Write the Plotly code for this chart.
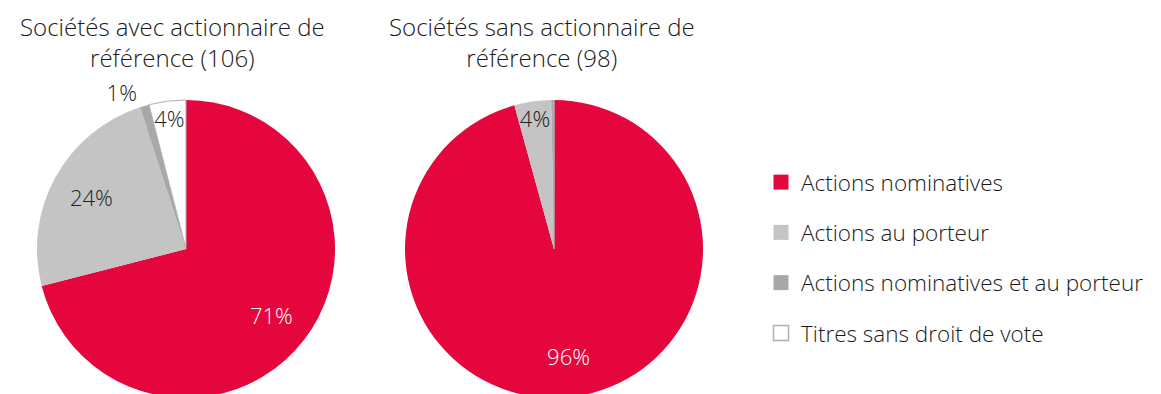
import plotly.graph_objects as go

categories = ["Actions nominatives", "Actions au porteur",
              "Actions nominatives et au porteur", "Titres sans droit de vote"]
avec_values = [71, 24, 1, 4]
sans_values = [96, 4, 0.3, 0]
avec_labels = ["71%", "24%", "1%", "4%"]
sans_labels = ["96%", "4%", "", ""]
titles = ["Sociétés avec actionnaire de<br>référence (106)",
          "Sociétés sans actionnaire de<br>référence (98)"]

colors = ["#E4063C", "#C4C4C4", "#A8A8A8", "#FFFFFF"]
line_colors = ["#E4063C", "#C4C4C4", "#A8A8A8", "#B0B0B0"]
text_colors = ["#FFFFFF", "#222222", "#222222", "#222222"]
FONT = "Open Sans"
W, H = 1161, 394

fig = go.Figure()


def domain(x0, x1, top, bottom):
    return dict(x=[x0 / W, x1 / W], y=[(H - bottom) / H, (H - top) / H])


def solid_pie(values, dom):
    return go.Pie(
        labels=categories, values=values, textinfo="none",
        sort=False, direction="clockwise", rotation=0,
        marker=dict(colors=colors, line=dict(color=line_colors, width=[0, 0, 0, 1])),
        domain=dom, showlegend=False, hoverinfo="label+percent",
    )


def text_pie(values, labels, dom, textpos):
    return go.Pie(
        labels=categories, values=values, text=labels, textinfo="text",
        sort=False, direction="clockwise", rotation=0, hole=0.45,
        marker=dict(colors=["rgba(0,0,0,0)"] * 4, line=dict(width=0)),
        textposition=textpos, insidetextorientation="horizontal",
        textfont=dict(family=FONT, size=22, color=text_colors, weight=300),
        outsidetextfont=dict(family=FONT, size=22, color="#222222", weight=300),
        domain=dom, showlegend=False, hoverinfo="skip",
    )


dom1 = domain(29, 327, 92, 390)
dom2 = domain(397, 695, 92, 390)
fig.add_trace(solid_pie(avec_values, dom1))
fig.add_trace(solid_pie(sans_values, dom2))
fig.add_trace(text_pie(avec_values, avec_labels, dom1, ["inside", "inside", "outside", "inside"]))
fig.add_trace(text_pie(sans_values, sans_labels, dom2, ["inside"] * 4))

for i, cat in enumerate(categories):
    fig.add_trace(go.Scatter(
        x=[None], y=[None], mode="markers", name=cat, legendgroup=cat,
        marker=dict(symbol="square", size=15, color=colors[i],
                    line=dict(color=line_colors[i] if i == 3 else colors[i],
                              width=1.5 if i == 3 else 0)),
    ))

for t, xc in zip(titles, [164, 534]):
    fig.add_annotation(text=t, x=xc / W, y=1 - 34 / H, xref="paper", yref="paper",
                       xanchor="center", yanchor="middle", showarrow=False, align="center",
                       font=dict(family=FONT, size=24, color="#1a1a1a", weight=300))

fig.update_layout(
    width=W, height=H, margin=dict(l=0, r=0, t=0, b=0),
    paper_bgcolor="white", plot_bgcolor="white",
    xaxis=dict(visible=False), yaxis=dict(visible=False),
    uniformtext=dict(mode="show", minsize=22),
    legend=dict(x=753 / W, y=1 - 153 / H, xanchor="left", yanchor="top",
                font=dict(family=FONT, size=22.5, color="#1a1a1a", weight=300),
                tracegroupgap=18, traceorder="grouped", itemclick=False),
)

fig.write_html("out.html")
